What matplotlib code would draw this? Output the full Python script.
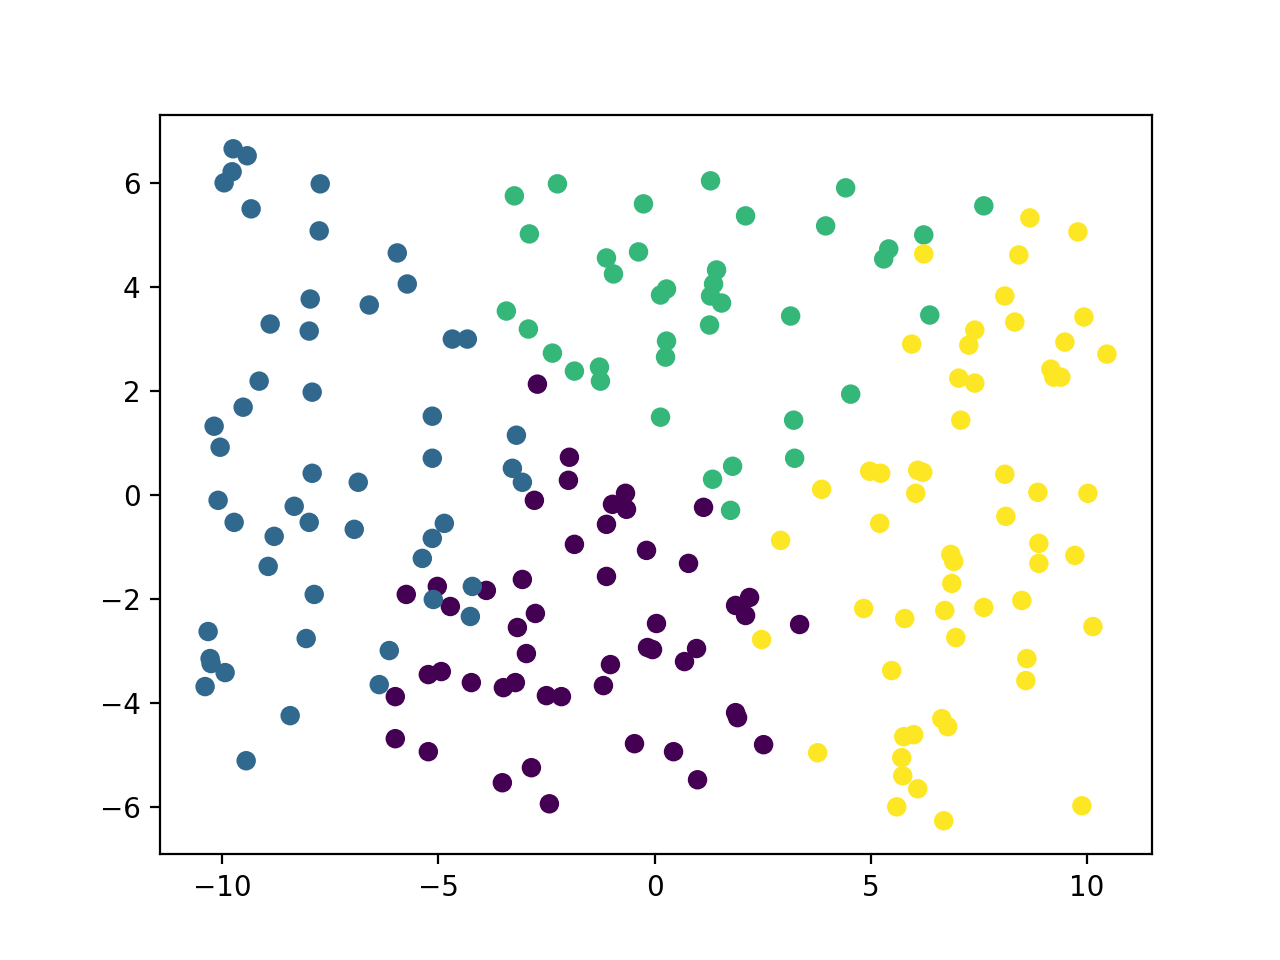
import numpy as np
import matplotlib
matplotlib.use("Agg")
import matplotlib.pyplot as plt

# cluster 0 (purple)
x0 = [-2.708, -1.968, -1.991, -0.671, -2.778, -0.972, -0.648, -1.111, 1.134, -1.852,
      -0.185, 0.787, -3.056, -1.111, -3.889, -2.755, -3.171, 0.046, 2.199, 1.875,
      2.106, 3.356, -2.963, -0.162, -0.046, 0.972, 0.694, -1.019, -1.181, -3.495,
      -3.218, -2.500, -2.153, 1.875, 1.921, -0.463, 0.440, 2.523, -2.847, -3.519,
      0.995, -2.431, -5.741, -5.023, -4.722, -5.231, -4.931, -4.236, -5.995, -5.995,
      -5.231]
y0 = [2.128, 0.722, 0.279, 0.029, -0.106, -0.183, -0.279, -0.568, -0.241, -0.953,
      -1.069, -1.319, -1.628, -1.570, -1.839, -2.282, -2.552, -2.475, -1.974, -2.128,
      -2.321, -2.494, -3.053, -2.937, -2.976, -2.956, -3.207, -3.265, -3.669, -3.708,
      -3.611, -3.862, -3.881, -4.189, -4.285, -4.786, -4.940, -4.805, -5.248, -5.537,
      -5.480, -5.942, -1.916, -1.762, -2.148, -3.457, -3.399, -3.611, -3.881, -4.690,
      -4.940]

# cluster 1 (blue)
x1 = [-9.745, -9.421, -9.769, -9.954, -9.329, -7.731, -7.755, -5.949, -5.718, -7.963,
      -6.597, -7.986, -8.889, -4.676, -4.329, -9.144, -7.917, -9.514, -10.185, -10.046,
      -5.139, -5.139, -7.917, -6.852, -3.194, -3.287, -3.056, -10.093, -9.722, -8.333,
      -7.986, -8.796, -8.935, -6.944, -4.861, -5.139, -5.370, -7.870, -4.213, -5.116,
      -4.259, -10.324, -10.278, -10.255, -9.931, -10.394, -8.056, -6.134, -6.366, -8.426,
      -9.444]
y1 = [6.654, 6.520, 6.212, 6.000, 5.499, 5.980, 5.075, 4.651, 4.054, 3.765,
      3.650, 3.149, 3.284, 2.995, 2.995, 2.186, 1.974, 1.685, 1.319, 0.915,
      1.512, 0.703, 0.414, 0.241, 1.146, 0.510, 0.241, -0.106, -0.530, -0.221,
      -0.530, -0.799, -1.377, -0.664, -0.549, -0.838, -1.223, -1.916, -1.762, -2.013,
      -2.340, -2.629, -3.149, -3.245, -3.419, -3.688, -2.764, -2.995, -3.650, -4.247,
      -5.114]

# cluster 2 (green)
x2 = [-3.241, -2.245, -2.894, -0.255, 1.296, 2.106, 3.958, 4.421, 7.616, 6.227,
      5.417, 5.301, -1.111, -0.949, -0.370, 0.278, 0.139, 1.435, 1.366, 1.296,
      1.551, 1.273, 3.148, -3.426, -2.917, -2.361, -1.852, -1.273, -1.250, 0.278,
      0.255, 0.139, 3.218, 3.241, 1.806, 1.343, 1.759, 6.366, 4.537]
y2 = [5.749, 5.980, 5.017, 5.595, 6.038, 5.364, 5.171, 5.903, 5.557, 4.998,
      4.728, 4.536, 4.555, 4.247, 4.671, 3.958, 3.842, 4.324, 4.054, 3.823,
      3.688, 3.265, 3.438, 3.534, 3.188, 2.725, 2.379, 2.456, 2.186, 2.956,
      2.648, 1.493, 1.435, 0.703, 0.549, 0.299, -0.299, 3.457, 1.936]

# cluster 3 (yellow)
x3 = [8.681, 9.792, 6.227, 8.426, 8.102, 8.333, 9.931, 5.949, 7.407, 7.269,
      9.491, 10.463, 9.167, 9.398, 9.236, 7.037, 7.407, 7.083, 4.977, 5.231,
      6.088, 6.204, 8.102, 3.866, 6.042, 8.866, 10.023, 5.208, 8.125, 2.917,
      6.852, 6.921, 6.875, 8.889, 8.889, 9.722, 4.838, 5.787, 6.713, 7.616,
      8.495, 10.139, 2.477, 6.968, 5.486, 8.611, 8.588, 6.644, 6.782, 5.995,
      5.764, 5.718, 5.741, 6.088, 5.602, 6.690, 9.884, 3.773]
y3 = [5.325, 5.056, 4.632, 4.613, 3.823, 3.322, 3.419, 2.899, 3.168, 2.879,
      2.937, 2.706, 2.417, 2.263, 2.263, 2.244, 2.148, 1.435, 0.453, 0.414,
      0.472, 0.433, 0.395, 0.106, 0.029, 0.048, 0.029, -0.549, -0.414, -0.876,
      -1.146, -1.281, -1.705, -0.934, -1.319, -1.165, -2.186, -2.379, -2.225, -2.167,
      -2.032, -2.533, -2.783, -2.745, -3.380, -3.149, -3.573, -4.305, -4.459, -4.613,
      -4.651, -5.056, -5.403, -5.653, -6.000, -6.269, -5.980, -4.960]

xs = np.array(x0 + x1 + x2 + x3)
ys = np.array(y0 + y1 + y2 + y3)
labels = np.array([0] * len(x0) + [1] * len(x1) + [2] * len(x2) + [3] * len(x3))

fig, ax = plt.subplots(figsize=(6.4, 4.8), dpi=200)
ax.scatter(xs, ys, c=labels, cmap="viridis")
fig.savefig("out.png", dpi=200)
